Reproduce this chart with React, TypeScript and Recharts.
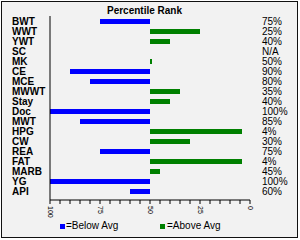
import React from "react";
import { BarChart, Bar, XAxis, YAxis, Legend } from "recharts";

const traits = ["BWT", "WWT", "YWT", "SC", "MK", "CE", "MCE", "MWWT", "Stay", "Doc", "MWT", "HPG", "CW", "REA", "FAT", "MARB", "YG", "API"];
const rankLabels = ["75%", "25%", "40%", "N/A", "50%", "90%", "80%", "35%", "40%", "100%", "85%", "4%", "30%", "75%", "4%", "45%", "100%", "60%"];
const barValues: (number | null)[] = [75, 25, 40, null, 49, 90, 80, 35, 40, 100, 85, 4, 30, 75, 4, 45, 100, 60];
const average = 50;
const axisTicks = [0, 5, 10, 15, 20, 25, 30, 35, 40, 45, 50, 55, 60, 65, 70, 75, 80, 85, 90, 95, 100];
const labeledTicks = [0, 25, 50, 75, 100];
const seriesNames = { below: "=Below Avg", above: "=Above Avg" };

const BLUE = "#0000ff";
const GREEN = "#008000";
const FONT = '"Liberation Sans", Arial, sans-serif';

const data = traits.map((name, i) => {
  const v = barValues[i];
  return {
    name,
    below: v != null && v > average ? [average, v] : null,
    above: v != null && v < average ? [v, average] : null,
  };
});

const LeftTick = (props: any) => {
  const { y, payload } = props;
  return (
    <text x={12} y={y} dy={4.3} textAnchor="start" fontSize={10} fontWeight="bold" fill="#000" fontFamily={FONT}>
      {payload.value}
    </text>
  );
};

const RightTick = (props: any) => {
  const { y, index } = props;
  return (
    <text x={262} y={y} dy={4.3} textAnchor="start" fontSize={10} fill="#000" fontFamily={FONT}>
      {rankLabels[index]}
    </text>
  );
};

const BottomTick = (props: any) => {
  const { x, y, payload } = props;
  if (!labeledTicks.includes(payload.value)) return <g />;
  return (
    <text
      x={x}
      y={y}
      transform={`rotate(90, ${x}, ${y})`}
      textAnchor="start"
      dominantBaseline="central"
      fontSize={7}
      fill="#000"
      fontFamily={FONT}
    >
      {String(payload.value)}
    </text>
  );
};

const LegendContent = () => (
  <div style={{ position: "relative", width: 300, height: 14, fontFamily: FONT, fontSize: 10, color: "#000" }}>
    <div style={{ position: "absolute", left: 60, top: 3, width: 5, height: 5, background: BLUE }} />
    <div style={{ position: "absolute", left: 66, top: -1, lineHeight: "12px", whiteSpace: "nowrap" }}>{seriesNames.below}</div>
    <div style={{ position: "absolute", left: 160, top: 3, width: 5, height: 5, background: GREEN }} />
    <div style={{ position: "absolute", left: 167, top: -1, lineHeight: "12px", whiteSpace: "nowrap" }}>{seriesNames.above}</div>
  </div>
);

export default function App() {
  return (
    <div style={{ position: "absolute", left: 0, top: 0, width: 300, height: 240, background: "#fff" }}>
      <div style={{ position: "absolute", left: 1, top: 1, width: 297, height: 237, background: "#f2f2f2" }} />
      <div
        style={{
          position: "absolute",
          left: 107,
          top: 4,
          fontFamily: FONT,
          fontSize: 10,
          fontWeight: "bold",
          lineHeight: "13px",
          color: "#000",
          whiteSpace: "nowrap",
        }}
      >
        Percentile Rank
      </div>
      <div style={{ position: "absolute", left: 0, top: 0 }}>
        <BarChart
          width={300}
          height={240}
          data={data}
          layout="vertical"
          margin={{ top: 16, right: 0, bottom: 0, left: 0 }}
          barGap={-5}
          barSize={5}
        >
          <XAxis
            type="number"
            domain={[0, 100]}
            reversed
            ticks={axisTicks}
            interval={0}
            tickSize={4}
            height={26}
            stroke="#000"
            tickLine={{ stroke: "#000" }}
            tick={<BottomTick />}
          />
          <YAxis
            yAxisId="left"
            type="category"
            dataKey="name"
            width={50}
            padding={{ top: 0, bottom: 4 }}
            stroke="#000"
            tickLine={false}
            interval={0}
            tick={<LeftTick />}
          />
          <YAxis
            yAxisId="right"
            orientation="right"
            type="category"
            dataKey="name"
            width={50}
            padding={{ top: 0, bottom: 4 }}
            axisLine={false}
            tickLine={false}
            interval={0}
            tick={<RightTick />}
          />
          <Legend verticalAlign="bottom" content={<LegendContent />} wrapperStyle={{ left: 0, top: 221, width: 300, height: 14 }} />
          <Bar yAxisId="left" dataKey="below" name={seriesNames.below} fill={BLUE} isAnimationActive={false} />
          <Bar yAxisId="left" dataKey="above" name={seriesNames.above} fill={GREEN} isAnimationActive={false} />
        </BarChart>
      </div>
      <div
        style={{
          position: "absolute",
          left: 1,
          top: 1,
          width: 297,
          height: 237,
          boxSizing: "border-box",
          border: "1px solid #111",
          pointerEvents: "none",
        }}
      />
    </div>
  );
}
